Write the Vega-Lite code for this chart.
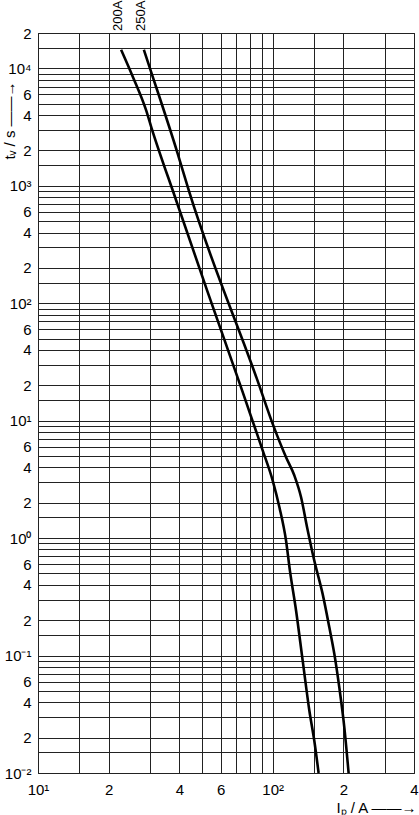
{
  "$schema": "https://vega.github.io/schema/vega-lite/v6.json",
  "width": 376,
  "height": 740,
  "autosize": {"type": "none"},
  "padding": {"left": 38, "top": 33, "right": 5, "bottom": 42},
  "background": "white",
  "config": {
    "view": {"stroke": "black", "strokeWidth": 1},
    "font": "Liberation Sans"
  },
  "data": {
    "values": [
      {"series": "200A", "I": 22.6, "t": 14400},
      {"series": "200A", "I": 25.4, "t": 8400},
      {"series": "200A", "I": 28.9, "t": 4380},
      {"series": "200A", "I": 30.4, "t": 3150},
      {"series": "200A", "I": 38.8, "t": 750},
      {"series": "200A", "I": 52.8, "t": 125},
      {"series": "200A", "I": 72.5, "t": 20.5},
      {"series": "200A", "I": 90.7, "t": 5.56},
      {"series": "200A", "I": 100, "t": 3.09},
      {"series": "200A", "I": 106.8, "t": 1.83},
      {"series": "200A", "I": 114, "t": 0.95},
      {"series": "200A", "I": 118.4, "t": 0.529},
      {"series": "200A", "I": 125.8, "t": 0.241},
      {"series": "200A", "I": 134.2, "t": 0.0905},
      {"series": "200A", "I": 143.3, "t": 0.0339},
      {"series": "200A", "I": 150.4, "t": 0.0188},
      {"series": "200A", "I": 156.9, "t": 0.01},
      {"series": "250A", "I": 28.25, "t": 14400},
      {"series": "250A", "I": 29.9, "t": 10200},
      {"series": "250A", "I": 39.4, "t": 1870},
      {"series": "250A", "I": 43.9, "t": 912},
      {"series": "250A", "I": 87, "t": 20.8},
      {"series": "250A", "I": 100, "t": 9.39},
      {"series": "250A", "I": 114, "t": 4.88},
      {"series": "250A", "I": 123.7, "t": 3.41},
      {"series": "250A", "I": 132.1, "t": 2.23},
      {"series": "250A", "I": 140.1, "t": 1.24},
      {"series": "250A", "I": 150.4, "t": 0.643},
      {"series": "250A", "I": 163.2, "t": 0.335},
      {"series": "250A", "I": 174.3, "t": 0.174},
      {"series": "250A", "I": 183.1, "t": 0.103},
      {"series": "250A", "I": 192.2, "t": 0.0536},
      {"series": "250A", "I": 201.9, "t": 0.0245},
      {"series": "250A", "I": 210.6, "t": 0.01}
    ]
  },
  "layer": [
    {
      "mark": {"type": "line", "color": "black", "strokeWidth": 2.6, "interpolate": "monotone"},
      "encoding": {
        "x": {
          "field": "I",
          "type": "quantitative",
          "scale": {"type": "log", "domain": [10, 400], "nice": false},
          "axis": {
            "values": [10, 15, 20, 30, 40, 50, 60, 70, 80, 90, 100, 150, 200, 300, 400],
            "grid": true,
            "gridColor": "#222",
            "gridWidth": 1,
            "gridOpacity": 1,
            "ticks": false,
            "domain": false,
            "labelExpr": "datum.value==10?'10¹':datum.value==100?'10²':indexof([20,40,60,200,400],datum.value)>=0?format(datum.value/(datum.value<100?10:100),'d'):''",
            "labelFlush": false,
            "labelOverlap": false,
            "labelPadding": 9,
            "labelFontSize": 15,
            "labelColor": "black",
            "title": "Iₚ / A ——→",
            "titleX": 338,
            "titleY": 34,
            "titleAlign": "center",
            "titleBaseline": "middle",
            "titleFontWeight": "normal",
            "titleFontSize": 15,
            "titleColor": "black"
          }
        },
        "y": {
          "field": "t",
          "type": "quantitative",
          "scale": {"type": "log", "domain": [0.01, 20000], "nice": false},
          "axis": {
            "values": [0.01, 0.015, 0.02, 0.03, 0.04, 0.05, 0.06, 0.07, 0.08, 0.09,
                       0.1, 0.15, 0.2, 0.3, 0.4, 0.5, 0.6, 0.7, 0.8, 0.9,
                       1, 1.5, 2, 3, 4, 5, 6, 7, 8, 9,
                       10, 15, 20, 30, 40, 50, 60, 70, 80, 90,
                       100, 150, 200, 300, 400, 500, 600, 700, 800, 900,
                       1000, 1500, 2000, 3000, 4000, 5000, 6000, 7000, 8000, 9000,
                       10000, 15000, 20000],
            "grid": true,
            "gridColor": "#222",
            "gridWidth": 1,
            "gridOpacity": 1,
            "ticks": false,
            "domain": false,
            "labelExpr": "indexof([0.01,0.1,1,10,100,1000,10000],datum.value)>=0 ? ['10⁻²','10⁻¹','10⁰','10¹','10²','10³','10⁴'][indexof([0.01,0.1,1,10,100,1000,10000],datum.value)] : indexof([0.02,0.04,0.06,0.2,0.4,0.6,2,4,6,20,40,60,200,400,600,2000,4000,6000,20000],datum.value)>=0 ? format(datum.value/pow(10,floor(log(datum.value)/LN10+1e-9)),'.0f')+' ' : ''",
            "labelFlush": false,
            "labelOverlap": false,
            "labelPadding": 7,
            "labelFontSize": 15,
            "labelColor": "black",
            "title": "tᵥ / s ——→",
            "titleX": -29,
            "titleY": 87,
            "titleAngle": 270,
            "titleAlign": "center",
            "titleBaseline": "middle",
            "titleFontWeight": "normal",
            "titleFontSize": 15,
            "titleColor": "black"
          }
        },
        "detail": {"field": "series", "type": "nominal"}
      }
    },
    {
      "data": {"values": [{"I": 21.9, "t": 20000, "label": "200A"}, {"I": 27.5, "t": 20000, "label": "250A"}]},
      "mark": {"type": "text", "angle": 270, "align": "left", "baseline": "middle", "dx": 2, "fontSize": 13, "color": "black"},
      "encoding": {
        "x": {"field": "I", "type": "quantitative"},
        "y": {"field": "t", "type": "quantitative"},
        "text": {"field": "label"}
      }
    }
  ]
}
